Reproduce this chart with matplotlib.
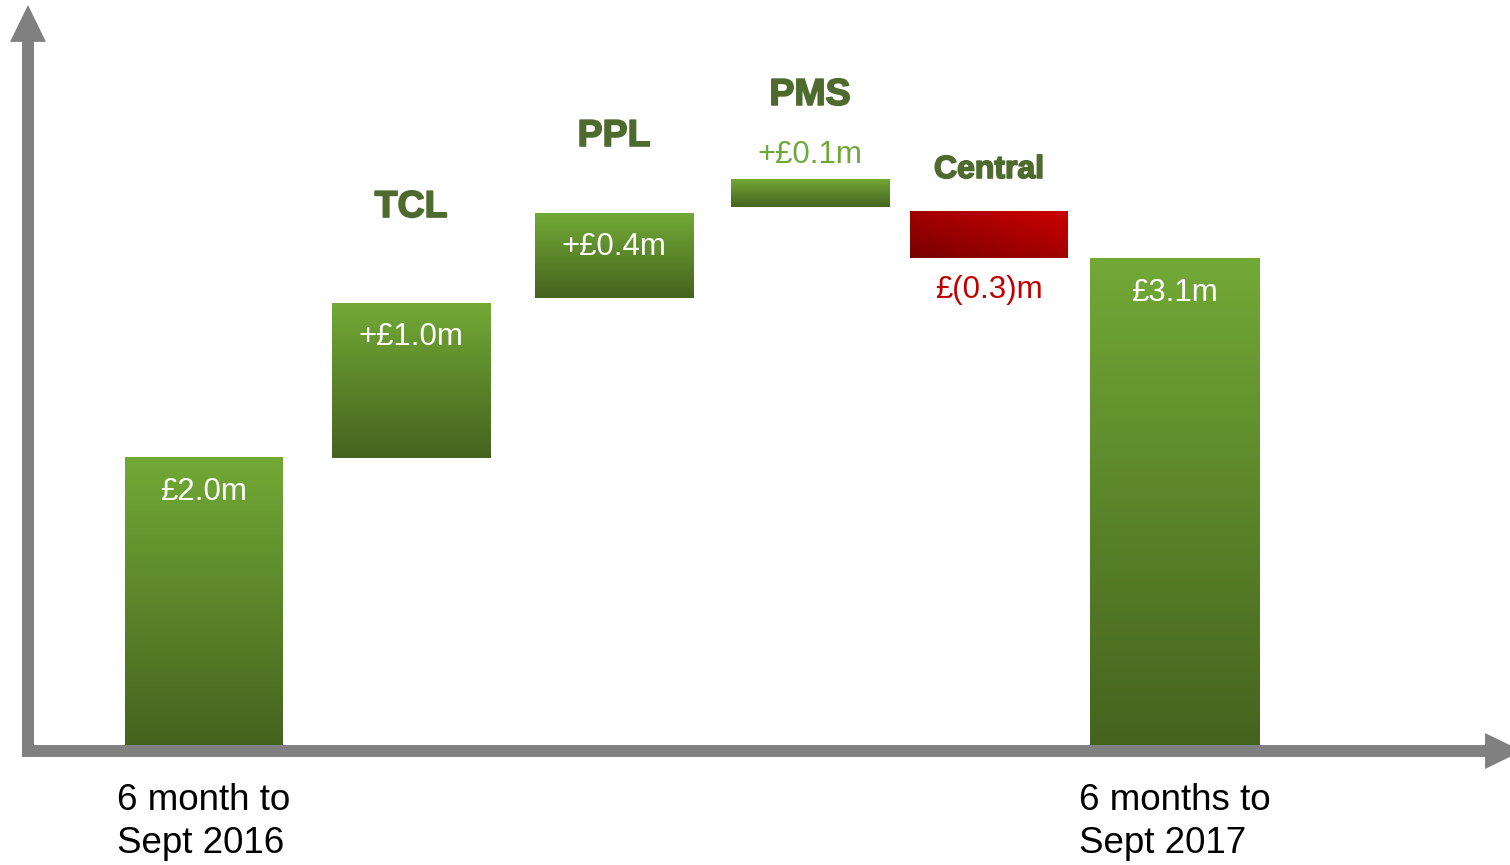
import matplotlib
matplotlib.use("Agg")
import matplotlib.pyplot as plt
import numpy as np
from matplotlib.colors import LinearSegmentedColormap
from matplotlib.patches import FancyArrowPatch
import matplotlib.patheffects as pe

plt.rcParams['font.family'] = ['Liberation Sans', 'DejaVu Sans']

# waterfall values (GBP m, as drawn in the picture)
segments = ["", "TCL", "PPL", "PMS", "Central", ""]
bar_base = [0.0, 2.0, 3.115, 3.749, 3.394, 0.0]
bar_top = [2.0, 3.08, 3.707, 3.944, 3.721, 3.387]
value_labels = ["£2.0m", "+£1.0m", "+£0.4m", "+£0.1m", "£(0.3)m", "£3.1m"]
period_labels = ["6 month to\nSept 2016", "", "", "", "", "6 months to\nSept 2017"]

# layout
xpos = [1.0175, 2.055, 3.07, 4.05, 4.945, 5.8725]
widths = [0.785, 0.79, 0.79, 0.79, 0.79, 0.845]
header_y = [None, 3.749, 4.244, 4.530, 4.007, None]
header_size = [0, 27, 27, 27, 23, 0]

green_cmap = LinearSegmentedColormap.from_list("g", ["#45631e", "#72a936"])
red_cmap = LinearSegmentedColormap.from_list("r", ["#780000", "#cc0000"])
header_color = "#4e6a2e"
axis_color = "#808080"

fig = plt.figure(figsize=(15.1, 8.65), dpi=100)
ax = fig.add_axes([0, 0, 1, 1])
ax.axis("off")

vgrad = np.linspace(0, 1, 256).reshape(-1, 1)
gx, gy = np.meshgrid(np.linspace(0, 1, 64), np.linspace(0, 1, 64))
dgrad = (gx + gy) / 2

for i in range(len(xpos)):
    x0 = xpos[i] - widths[i] / 2
    x1 = xpos[i] + widths[i] / 2
    lo, hi = bar_base[i], bar_top[i]
    negative = value_labels[i].startswith("£(")
    if negative:
        ax.imshow(dgrad, cmap=red_cmap, extent=[x0, x1, lo, hi], origin="lower",
                  aspect="auto", zorder=2, interpolation="bilinear")
    else:
        ax.imshow(vgrad, cmap=green_cmap, extent=[x0, x1, lo, hi], origin="lower",
                  aspect="auto", zorder=2, interpolation="bilinear")

    # value label
    if negative:
        ax.text(xpos[i], lo - 0.222, value_labels[i], ha="center", va="center",
                fontsize=22.5, color="#c00000", zorder=3)
    elif hi - lo < 0.4:
        ax.text(xpos[i], hi + 0.17, value_labels[i], ha="center", va="center",
                fontsize=22.5, color="#6fa83a", zorder=3)
    else:
        ax.text(xpos[i], hi - 0.24, value_labels[i], ha="center", va="center",
                fontsize=22.5, color="white", zorder=3)

    if segments[i]:
        ax.text(xpos[i], header_y[i], segments[i], ha="center", va="center",
                fontsize=header_size[i], fontweight="bold", color=header_color,
                path_effects=[pe.withStroke(linewidth=1.2, foreground=header_color)])

    if period_labels[i]:
        ax.text(xpos[i], -0.262, period_labels[i], ha="center", va="top",
                multialignment="left", fontsize=26.5, color="black", linespacing=1.31)

ax.set_xlim(0, 7.55)
ax.set_ylim(-0.8362, 5.1916)

# axes drawn as thick grey arrows
arrow_style = "simple,head_length=26.6,head_width=25.9,tail_width=8.6"
yarrow = FancyArrowPatch((0.14, -0.0836), (0.14, 5.157), arrowstyle=arrow_style,
                         mutation_scale=1, color=axis_color, lw=0,
                         shrinkA=0, shrinkB=0, zorder=4, clip_on=False)
xarrow = FancyArrowPatch((0.11, -0.0418), (7.61, -0.0418), arrowstyle=arrow_style,
                         mutation_scale=1, color=axis_color, lw=0,
                         shrinkA=0, shrinkB=0, zorder=4, clip_on=False)
ax.add_patch(yarrow)
ax.add_patch(xarrow)

fig.savefig("out.png", dpi=100)
